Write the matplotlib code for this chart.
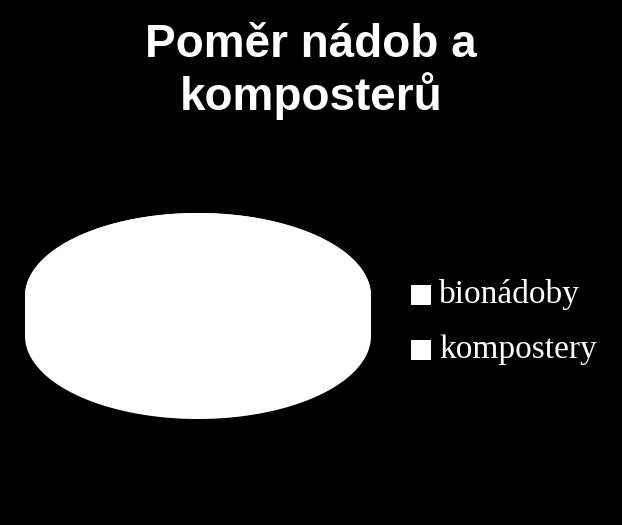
import numpy as np
import matplotlib.pyplot as plt
from matplotlib.patches import Polygon, Rectangle

categories = ["bionádoby", "kompostery"]
values = [97, 3]
title = "Poměr nádob a\nkomposterů"

fig = plt.figure(figsize=(6.22, 5.25), dpi=100, facecolor="black")
ax = fig.add_axes([0, 0, 1, 1])
ax.set_facecolor("black")
ax.set_xlim(0, 622)
ax.set_ylim(525, 0)
ax.axis("off")

# 3D pie geometry (pixels)
cx, cy, a, b, depth = 198, 296, 173, 83, 40


def ell(t, dy=0):
    r = np.radians(t)
    return np.column_stack([cx + a * np.cos(r), cy - b * np.sin(r) + dy])


fracs = np.array(values, dtype=float) / sum(values)
starts = 90 - 360 * np.concatenate([[0], np.cumsum(fracs)[:-1]])
ends = starts - 360 * fracs

# whole silhouette underneath: back half of the top + front half of the bottom
back = np.linspace(0, 180, 200)
front = np.linspace(180, 360, 200)
ax.add_patch(Polygon(np.vstack([ell(back), ell(front, depth)]), closed=True,
                     fc="white", ec="none"))

# slices on top
for s, e in zip(starts, ends):
    t = np.linspace(s, e, 200)
    pts = np.vstack([[cx, cy], ell(t)])
    ax.add_patch(Polygon(pts, closed=True, fc="white", ec="none"))

fig.text(0.5, 1 - 110 / 525, title, color="white", fontsize=33, fontweight="bold",
         family="Liberation Sans", ha="center", va="baseline", linespacing=1.13)

# legend
for i, name in enumerate(categories):
    y = 303 + i * 55
    ax.add_patch(Rectangle((411, y - 18), 20, 20, fc="white", ec="none"))
    ax.text(439, y, name, color="white", fontsize=24, family="Liberation Serif",
            ha="left", va="baseline")

fig.savefig("out.png", dpi=100, facecolor="black")
